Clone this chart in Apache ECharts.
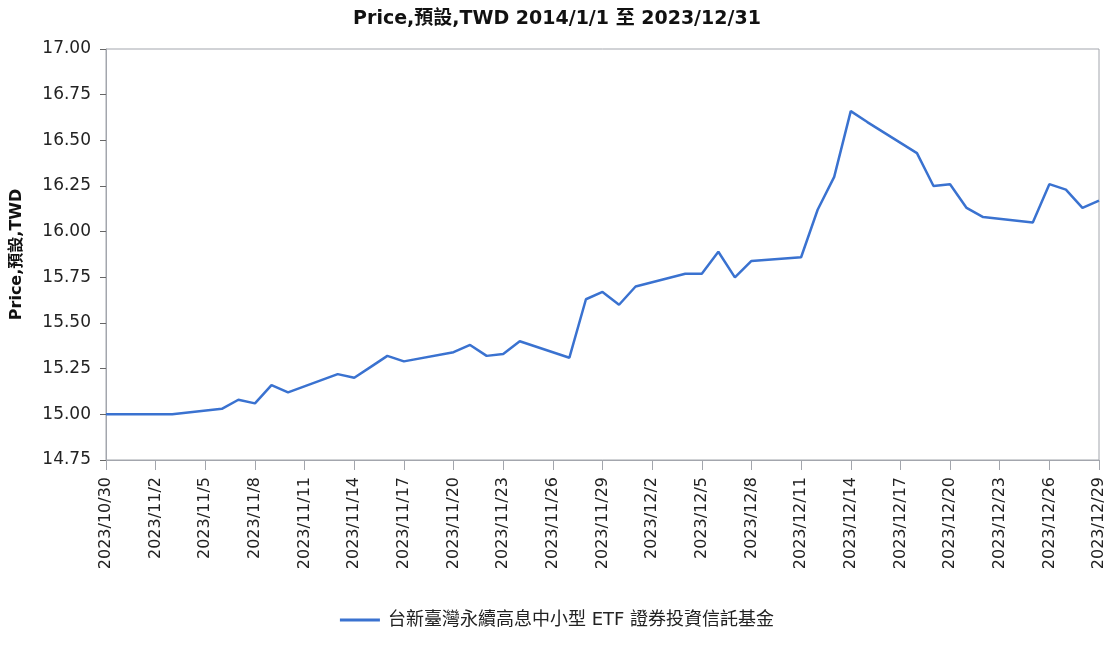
<!DOCTYPE html>
<html>
<head>
<meta charset="utf-8">
<script src="https://cdn.jsdelivr.net/npm/echarts@6/dist/echarts.min.js"></script>
<style>
  html, body { margin: 0; padding: 0; background: #fff; }
  #chart { width: 1114px; height: 664px; }
</style>
</head>
<body>
<div id="chart"></div>
<script>
const seriesName = '台新臺灣永續高息中小型 ETF 證券投資信託基金'
const firstDay = '2023/10/30'
const lastDay = '2023/12/29'
const tradeDates = [
  '2023/10/30', '2023/10/31', '2023/11/1', '2023/11/2', '2023/11/3',
  '2023/11/6', '2023/11/7', '2023/11/8', '2023/11/9', '2023/11/10',
  '2023/11/13', '2023/11/14', '2023/11/15', '2023/11/16', '2023/11/17',
  '2023/11/20', '2023/11/21', '2023/11/22', '2023/11/23', '2023/11/24',
  '2023/11/27', '2023/11/28', '2023/11/29', '2023/11/30', '2023/12/1',
  '2023/12/4', '2023/12/5', '2023/12/6', '2023/12/7', '2023/12/8',
  '2023/12/11', '2023/12/12', '2023/12/13', '2023/12/14', '2023/12/15',
  '2023/12/18', '2023/12/19', '2023/12/20', '2023/12/21', '2023/12/22',
  '2023/12/25', '2023/12/26', '2023/12/27', '2023/12/28', '2023/12/29'
]
const prices = [
  15.00, 15.00, 15.00, 15.00, 15.00,
  15.03, 15.08, 15.06, 15.16, 15.12,
  15.22, 15.20, 15.26, 15.32, 15.29,
  15.34, 15.38, 15.32, 15.33, 15.40,
  15.31, 15.63, 15.67, 15.60, 15.70,
  15.77, 15.77, 15.89, 15.75, 15.84,
  15.86, 16.12, 16.30, 16.66, 16.60,
  16.43, 16.25, 16.26, 16.13, 16.08,
  16.05, 16.26, 16.23, 16.13, 16.17
]

// every calendar day on the axis, weekends stay empty
const fmt = d => d.getFullYear() + '/' + (d.getMonth() + 1) + '/' + d.getDate()
const days = []
for (let d = new Date(firstDay); d <= new Date(lastDay); d.setDate(d.getDate() + 1)) {
  days.push(fmt(d))
}
const lookup = {}
tradeDates.forEach((t, i) => { lookup[t] = prices[i] })
const values = days.map(d => (d in lookup ? lookup[d] : null))

const font = "'DejaVu Sans', 'Noto Sans CJK TC', sans-serif"
const frame = '#a3a6ad'

const myChart = echarts.init(document.getElementById('chart'))
myChart.setOption({
  animation: false,
  textStyle: { fontFamily: font },
  title: {
    text: 'Price,預設,TWD 2014/1/1 至 2023/12/31',
    left: 'center',
    top: 5,
    textStyle: { fontFamily: font, fontSize: 19, fontWeight: 'bold', color: '#111' }
  },
  legend: {
    data: [seriesName],
    bottom: 30,
    left: 'center',
    icon: 'rect',
    itemWidth: 40,
    itemHeight: 3,
    itemGap: 10,
    textStyle: { fontFamily: font, fontSize: 18, color: '#222', padding: [0, 0, 0, 3] }
  },
  grid: {
    left: 106, right: 15, top: 49, bottom: 204,
    containLabel: false, outerBoundsMode: 'none',
    show: true, borderColor: frame, borderWidth: 1
  },
  xAxis: {
    type: 'category',
    data: days,
    boundaryGap: false,
    axisLine: { lineStyle: { color: frame } },
    axisTick: { interval: 2, length: 10, lineStyle: { color: frame } },
    axisLabel: { interval: 2, rotate: 90, fontSize: 16, color: '#222', margin: 17 },
    splitLine: { show: false }
  },
  yAxis: {
    type: 'value',
    min: 14.75,
    max: 17,
    interval: 0.25,
    name: 'Price,預設,TWD',
    nameLocation: 'middle',
    nameGap: 81,
    nameTextStyle: { fontFamily: font, fontSize: 16, fontWeight: 'bold', color: '#111' },
    axisLine: { show: true, lineStyle: { color: frame } },
    axisTick: { show: true, length: 6, lineStyle: { color: '#666' } },
    axisLabel: { fontSize: 17, color: '#222', margin: 15, formatter: v => v.toFixed(2) },
    splitLine: { show: false }
  },
  series: [
    {
      name: seriesName,
      type: 'line',
      data: values,
      connectNulls: true,
      symbol: 'none',
      lineStyle: { color: '#3a72d0', width: 2.5 },
      itemStyle: { color: '#3a72d0' }
    }
  ]
})
</script>
</body>
</html>
